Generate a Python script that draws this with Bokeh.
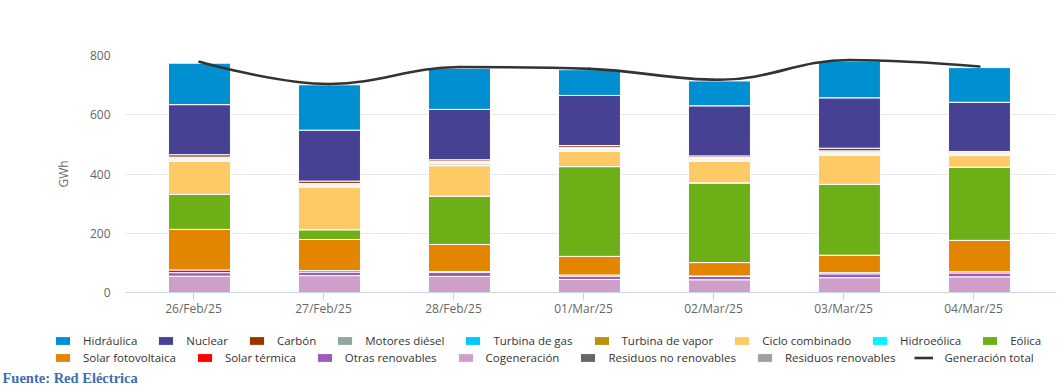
from bokeh.plotting import figure
from bokeh.layouts import column
from bokeh.models import (FixedTicker, Legend, LegendItem, Label, Range1d, ColumnDataSource)
from bokeh.embed import file_html
from bokeh.resources import INLINE

# ---------------- data (GWh) ----------------
fechas = ["26/Feb/25", "27/Feb/25", "28/Feb/25", "01/Mar/25", "02/Mar/25", "03/Mar/25", "04/Mar/25"]

hidraulica = [140, 153, 139, 87, 84, 124, 117]
nuclear = [169, 172, 170, 169, 169, 170, 166]
carbon = [8, 8, 5, 6, 5, 9, 2]
motores_diesel = [4, 4, 4, 4, 4, 4, 4]
turbina_gas = [2, 2, 2, 2, 2, 3, 2]
turbina_vapor = [3, 3, 3, 3, 3, 3, 3]
ciclo_combinado = [112, 144, 103, 52, 73, 98, 39]
hidroeolica = [0.1, 0.1, 0.1, 0.1, 0.1, 0.1, 0.1]
eolica = [118, 33, 163, 303, 269, 239, 247]
solar_fotovoltaica = [137, 105, 91, 63, 45, 59, 106]
solar_termica = [9, 5, 3, 4, 2, 4, 4]
otras_renovables = [12, 12, 14, 11, 11, 13, 13]
cogeneracion = [55, 57, 54, 44, 43, 50, 53]
residuos_no_renovables = [3, 2, 4, 3, 2, 3, 2]
residuos_renovables = [2, 1, 2, 1, 2, 2, 1]
generacion_total = [779, 704, 761, 755, 718, 785, 763]

# name, label, color  (legend order)
series = [
    ("hidraulica", "Hidráulica", "#0090d1", hidraulica),
    ("nuclear", "Nuclear", "#474193", nuclear),
    ("carbon", "Carbón", "#9a3500", carbon),
    ("motores_diesel", "Motores diésel", "#8fa89f", motores_diesel),
    ("turbina_gas", "Turbina de gas", "#00c8ff", turbina_gas),
    ("turbina_vapor", "Turbina de vapor", "#b8920a", turbina_vapor),
    ("ciclo_combinado", "Ciclo combinado", "#ffc966", ciclo_combinado),
    ("hidroeolica", "Hidroeólica", "#00f5ff", hidroeolica),
    ("eolica", "Eólica", "#6daf16", eolica),
    ("solar_fotovoltaica", "Solar fotovoltaica", "#e48500", solar_fotovoltaica),
    ("solar_termica", "Solar térmica", "#ff0000", solar_termica),
    ("otras_renovables", "Otras renovables", "#9a5bbd", otras_renovables),
    ("cogeneracion", "Cogeneración", "#cea0c9", cogeneracion),
    ("residuos_no_renovables", "Residuos no renovables", "#666666", residuos_no_renovables),
    ("residuos_renovables", "Residuos renovables", "#a0a0a0", residuos_renovables),
]
info = {s[0]: s for s in series}

# stacking order, bottom -> top
stack_order = ["cogeneracion", "otras_renovables", "solar_termica", "solar_fotovoltaica",
               "eolica", "hidroeolica", "ciclo_combinado", "residuos_renovables",
               "residuos_no_renovables", "turbina_vapor", "turbina_gas", "motores_diesel",
               "carbon", "nuclear", "hidraulica"]

shift = 0.046
xs = [i + shift for i in range(len(fechas))]
data = {"x": xs, "generacion_total": generacion_total}
for name, label, color, vals in series:
    data[name] = vals
source = ColumnDataSource(data)

FONT = "Open Sans"
W = 1060
H1 = 325
H2 = 61

p = figure(width=W, height=H1, output_backend="svg", toolbar_location=None,
           x_range=Range1d(-0.523, 6.631), y_range=Range1d(0, 800),
           min_border_left=125, min_border_right=5, min_border_top=55, min_border_bottom=33)
p.frame_align = False
p.outline_line_color = None
p.background_fill_color = "white"
p.border_fill_color = "white"

renders = p.vbar_stack(stack_order, x="x", width=0.477, source=source,
                       color=[info[n][2] for n in stack_order],
                       line_color="white", line_width=1)

# ---- spline for total generation (Highcharts-like bezier control points) ----
smoothing = 1.5
denom = smoothing + 1
n = len(xs)
left_c = [None] * n
right_c = [None] * n
for i in range(n):
    px, py = xs[i], generacion_total[i]
    if 0 < i < n - 1:
        lx, ly = xs[i - 1], generacion_total[i - 1]
        nx, ny = xs[i + 1], generacion_total[i + 1]
        lcx = (smoothing * px + lx) / denom
        lcy = (smoothing * py + ly) / denom
        rcx = (smoothing * px + nx) / denom
        rcy = (smoothing * py + ny) / denom
        corr = 0
        if rcx != lcx:
            corr = ((rcy - lcy) * (rcx - px)) / (rcx - lcx) + py - rcy
        lcy += corr
        rcy += corr
        if lcy > ly and lcy > py:
            lcy = max(ly, py); rcy = 2 * py - lcy
        elif lcy < ly and lcy < py:
            lcy = min(ly, py); rcy = 2 * py - lcy
        if rcy > ny and rcy > py:
            rcy = max(ny, py); lcy = 2 * py - rcy
        elif rcy < ny and rcy < py:
            rcy = min(ny, py); lcy = 2 * py - rcy
        left_c[i] = (lcx, lcy)
        right_c[i] = (rcx, rcy)
    else:
        left_c[i] = (px, py)
        right_c[i] = (px, py)

bz = ColumnDataSource(dict(
    x0=xs[:-1], y0=generacion_total[:-1], x1=xs[1:], y1=generacion_total[1:],
    cx0=[right_c[i][0] for i in range(n - 1)], cy0=[right_c[i][1] for i in range(n - 1)],
    cx1=[left_c[i][0] for i in range(1, n)], cy1=[left_c[i][1] for i in range(1, n)],
))
p.bezier(x0="x0", y0="y0", x1="x1", y1="y1", cx0="cx0", cy0="cy0", cx1="cx1", cy1="cy1",
         source=bz, line_color="#333333", line_width=2.6, line_cap="round")

# ---- axes ----
p.xaxis.ticker = FixedTicker(ticks=list(range(len(fechas))))
p.xaxis.major_label_overrides = {i: f for i, f in enumerate(fechas)}
p.xaxis.axis_line_color = "#ccd6eb"
p.xaxis.major_tick_line_color = "#ccd6eb"
p.xaxis.major_tick_out = 8
p.xaxis.major_tick_in = 0
p.xaxis.minor_tick_line_color = None
p.xaxis.major_label_standoff = -1
p.xaxis.major_label_text_font = FONT
p.xaxis.major_label_text_font_size = "12px"
p.xaxis.major_label_text_color = "#666666"

p.yaxis.ticker = FixedTicker(ticks=[0, 200, 400, 600, 800])
p.yaxis.axis_line_color = None
p.yaxis.major_tick_line_color = None
p.yaxis.minor_tick_line_color = None
p.yaxis.major_label_standoff = 9
p.yaxis.major_label_text_font = FONT
p.yaxis.major_label_text_font_size = "12px"
p.yaxis.major_label_text_color = "#666666"
p.yaxis.axis_label = "GWh"
p.yaxis.axis_label_text_font = FONT
p.yaxis.axis_label_text_font_style = "normal"
p.yaxis.axis_label_text_font_size = "12px"
p.yaxis.axis_label_text_color = "#666666"
p.yaxis.axis_label_standoff = 15

p.xgrid.grid_line_color = None
p.ygrid.grid_line_color = "#e6e6e6"
p.ygrid.ticker = FixedTicker(ticks=[0, 200, 400, 600, 800])

# ---- legend strip (two rows + source note) ----
q = figure(width=W, height=H2, output_backend="svg", toolbar_location=None,
           x_range=Range1d(1000, 1000 + W), y_range=Range1d(0, H2),
           x_axis_type=None, y_axis_type=None,
           min_border_left=0, min_border_right=0, min_border_top=0, min_border_bottom=0)
q.frame_align = False
q.outline_line_color = None
q.xgrid.grid_line_color = None
q.ygrid.grid_line_color = None
q.background_fill_color = "white"
q.border_fill_color = "white"

# swatch renderers (hidden; only their legend entries are shown)
leg_r = {}
for name, label, color, vals in series:
    leg_r[name] = q.vbar(x="x", top=name, width=0.477, source=source,
                         fill_color=color, line_color="white", line_width=1, visible=False)
total_leg = q.line(x="x", y="generacion_total", source=source,
                   line_color="#333333", line_width=2.6, visible=False)

row1 = ["hidraulica", "nuclear", "carbon", "motores_diesel", "turbina_gas", "turbina_vapor",
        "ciclo_combinado", "hidroeolica", "eolica"]
row2 = ["solar_fotovoltaica", "solar_termica", "otras_renovables", "cogeneracion",
        "residuos_no_renovables", "residuos_renovables"]

def make_legend(items, loc):
    return Legend(items=items, location=loc, orientation="horizontal",
                  padding=0, margin=0, spacing=19, glyph_width=19, glyph_height=11,
                  label_standoff=11, label_height=14,
                  label_text_font=FONT, label_text_font_size="11.5px",
                  label_text_color="#333333",
                  background_fill_alpha=0, border_line_alpha=0)

items1 = [LegendItem(label=info[k][1], renderers=[leg_r[k]]) for k in row1]
items2 = [LegendItem(label=info[k][1], renderers=[leg_r[k]]) for k in row2]
items2.append(LegendItem(label="Generación total", renderers=[total_leg]))

q.add_layout(make_legend(items1, (53, 38)), "center")
q.add_layout(make_legend(items2, (53, 21)), "center")

q.add_layout(Label(x=2, y=9, x_units="screen", y_units="screen",
                   text="Fuente: Red Eléctrica", text_font="Liberation Serif",
                   text_font_style="bold", text_font_size="14.5px",
                   text_color="#3d6db4", text_baseline="alphabetic"))

layout = column(p, q, spacing=0)
open("out.html", "w").write(file_html(layout, INLINE))
